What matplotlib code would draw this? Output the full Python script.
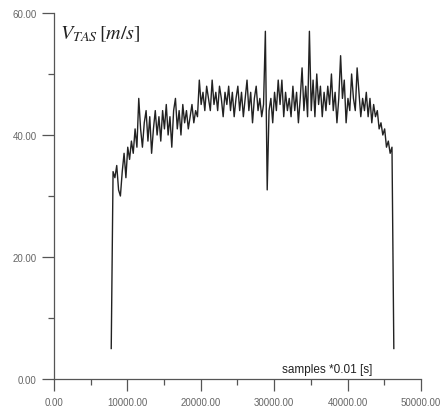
import numpy as np
import matplotlib
matplotlib.use("Agg")
import matplotlib.pyplot as plt
from matplotlib.ticker import MultipleLocator, FormatStrFormatter

# values, one every 250 samples starting at 7800
start_sample = 7800
step = 250
v_tas = [5, 34, 33, 35, 31, 30, 34, 37, 33, 38,
         36, 39, 37, 41, 38, 46, 41, 38, 42, 44,
         39, 43, 37, 41, 44, 40, 43, 39, 44, 41,
         45, 40, 43, 38, 44, 46, 41, 44, 40, 45,
         42, 44, 41, 43, 45, 42, 44, 43, 49, 45,
         47, 44, 48, 46, 44, 49, 45, 47, 44, 48,
         46, 43, 47, 45, 48, 44, 47, 43, 46, 48,
         44, 47, 43, 46, 49, 44, 47, 42, 46, 48,
         44, 46, 43, 45, 57, 31, 44, 46, 42, 47,
         44, 49, 45, 49, 43, 47, 44, 46, 43, 48,
         44, 47, 42, 46, 51, 44, 48, 43, 57, 44,
         49, 43, 50, 45, 48, 43, 47, 44, 48, 45,
         50, 44, 47, 42, 46, 53, 46, 49, 42, 46,
         44, 50, 46, 44, 51, 47, 43, 46, 44, 47,
         43, 46, 42, 45, 43, 44, 41, 42, 40, 41,
         38, 39, 37, 38, 5]
samples = start_sample + step * np.arange(len(v_tas))

x_ticks = [0, 10000, 20000, 30000, 40000, 50000]
y_ticks = [0, 20, 40, 60]

plt.rcParams['mathtext.fontset'] = 'stix'
fig = plt.figure(figsize=(4.41, 4.14), dpi=100)
ax = fig.add_axes([0.1224, 0.0821, 0.8322, 0.8841])

ax.plot(samples, v_tas, color='#222222', lw=1.0)

ax.set_xlim(0, 50000)
ax.set_ylim(0, 60)
ax.set_xticks(x_ticks)
ax.set_yticks(y_ticks)
ax.xaxis.set_minor_locator(MultipleLocator(5000))
ax.yaxis.set_minor_locator(MultipleLocator(10))
ax.xaxis.set_major_formatter(FormatStrFormatter('%.2f'))
ax.yaxis.set_major_formatter(FormatStrFormatter('%.2f'))

for s in ['top', 'right']:
    ax.spines[s].set_visible(False)
for s in ['left', 'bottom']:
    ax.spines[s].set_color('#555555')
    ax.spines[s].set_linewidth(0.9)

ax.tick_params(which='major', length=8.5, width=0.9, color='#555555',
               labelsize=7, labelcolor='#666666')
ax.tick_params(axis='x', which='major', pad=4.5)
ax.tick_params(axis='y', which='major', pad=4)
ax.tick_params(which='minor', length=4.3, width=0.9, color='#555555')
for lab in ax.get_xticklabels() + ax.get_yticklabels():
    lab.set_family('Liberation Sans')

ax.text(0.016, 0.93, r'$V_{TAS}\,[m/s]$', transform=ax.transAxes,
        fontsize=14.5, color='#222222', va='baseline')
ax.text(0.62, 0.02, 'samples *0.01 [s]', transform=ax.transAxes,
        fontsize=8.5, family='Liberation Sans', color='#222222')

fig.savefig('out.png', dpi=100)
